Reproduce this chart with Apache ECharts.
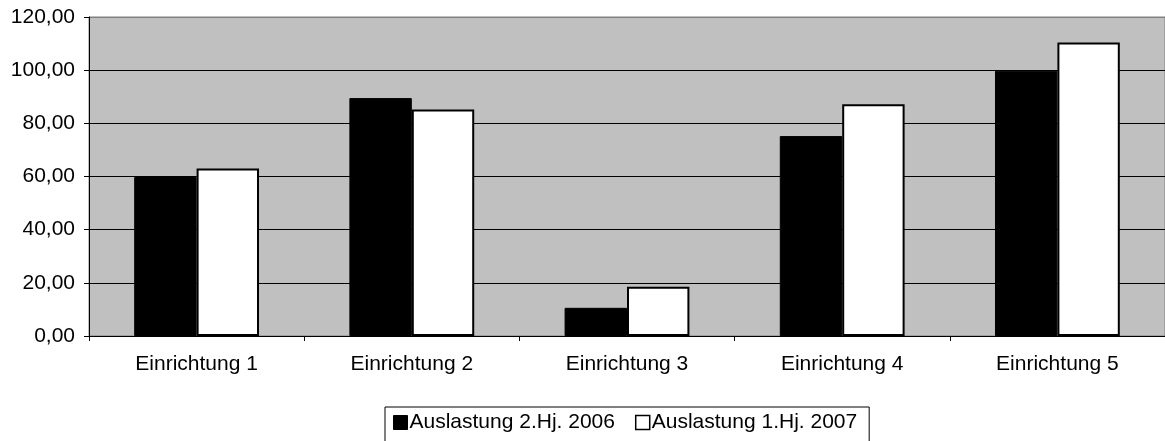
<!DOCTYPE html>
<html>
<head>
<meta charset="utf-8">
<script src="https://cdn.jsdelivr.net/npm/echarts@6/dist/echarts.min.js"></script>
<style>html,body{margin:0;padding:0;background:#fff}#c{width:1165px;height:441px}</style>
</head>
<body>
<div id="c"></div>
<script>
var categories = ['Einrichtung 1','Einrichtung 2','Einrichtung 3','Einrichtung 4','Einrichtung 5'];
var seriesNames = ['Auslastung 2.Hj. 2006','Auslastung 1.Hj. 2007'];
var values2006 = [59.8, 89.5, 10.6, 75.2, 99.8];
var values2007 = [63.0, 85.2, 18.5, 87.2, 110.4];
var yTicks = {min: 0, max: 120, interval: 20};

var FONT = 'Liberation Sans, Arial, sans-serif';
var chart = echarts.init(document.getElementById('c'), null, {renderer: 'canvas'});
chart.setOption({
  animation: false,
  backgroundColor: '#ffffff',
  grid: {
    left: 89, top: 17, right: 0, bottom: 105,
    show: true, backgroundColor: '#c0c0c0', borderColor: '#808080', borderWidth: 1
  },
  legend: {
    left: 385, top: 407,
    padding: [5, 12, 12, 8],
    borderColor: '#000', borderWidth: 1,
    itemWidth: 14, itemHeight: 14, itemGap: 20,
    textStyle: {fontFamily: FONT, fontSize: 21, color: '#000', padding: [0, 0, 0, -3]},
    data: [
      {name: seriesNames[0], icon: 'rect', itemStyle: {color: '#000', borderColor: '#000', borderWidth: 1}},
      {name: seriesNames[1], icon: 'rect', itemStyle: {color: '#fff', borderColor: '#000', borderWidth: 1.5}}
    ]
  },
  xAxis: {
    type: 'category',
    data: categories,
    boundaryGap: true,
    axisLine: {lineStyle: {color: '#000', width: 1}},
    axisTick: {show: true, length: 5, lineStyle: {color: '#000'}},
    axisLabel: {fontFamily: FONT, fontSize: 21, color: '#000', margin: 18},
    splitLine: {show: false}
  },
  yAxis: {
    type: 'value',
    min: yTicks.min, max: yTicks.max, interval: yTicks.interval,
    axisLine: {show: true, lineStyle: {color: '#000', width: 1}},
    axisTick: {show: true, length: 5, lineStyle: {color: '#000'}},
    axisLabel: {
      fontFamily: FONT, fontSize: 21, color: '#000', margin: 14,
      formatter: function (v) { return v.toFixed(2).replace('.', ','); }
    },
    splitLine: {show: true, lineStyle: {color: ['#000','#000','#000','#000','#000','#000','#808080'], width: 1}}
  },
  series: [
    {
      name: seriesNames[0], type: 'bar', data: values2006,
      barGap: '0%', barCategoryGap: '42%',
      itemStyle: {color: '#000', borderColor: '#000', borderWidth: 1}
    },
    {
      name: seriesNames[1], type: 'bar', data: values2007,
      barGap: '0%', barCategoryGap: '42%',
      itemStyle: {color: '#fff', borderColor: '#000', borderWidth: 2}
    }
  ]
});
</script>
</body>
</html>
